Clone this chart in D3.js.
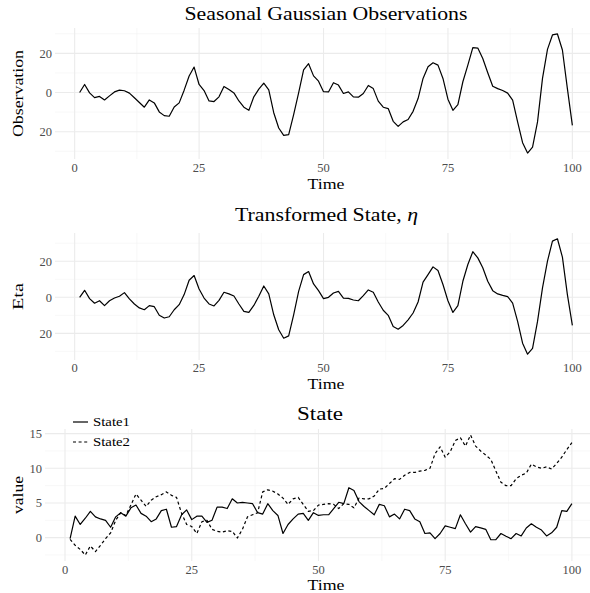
<!DOCTYPE html>
<html><head><meta charset="utf-8">
<script src="https://cdn.jsdelivr.net/npm/d3@7"></script>
<style>
body{margin:0;background:#fff}
svg{display:block}
text{font-family:"Liberation Serif","DejaVu Serif",serif}
</style>
</head><body>
<script>
// ---------- data ----------
const time = d3.range(1, 101);
const observation = [0,4.1,-0.2,-2.6,-2,-3.8,-1.7,0.3,1.2,0.9,-0.3,-2.7,-5.1,-7.5,-3.8,-5.3,-9.9,-11.8,-12.1,-7.4,
 -5.3,1.2,8.4,13,4.1,1,-4.3,-4.6,-2.2,3.1,1.5,-0.2,-4.3,-7.5,-9.1,-2.2,1.7,4.8,1.4,-10.3,
 -18.1,-21.9,-21.5,-11.3,-0.2,11.5,14.7,8.5,5.8,0.4,0.3,5,3.8,-0.5,0.3,-2.2,-2.4,-0.5,3.6,2,
 -4.4,-7.5,-8.2,-14.7,-17.3,-15,-13.8,-9.6,-3.1,7.2,13.2,15.2,14,7.2,-3.4,-9.1,-6.2,5.5,14,22.9,
 22.7,17.4,10.1,3.2,2,1,-0.3,-3.9,-15,-25.6,-30.9,-27.9,-15,7.2,22,29.4,29.9,21.7,2,-16.8];
const eta = [0,3.9,-0.7,-3.3,-1.9,-4.6,-1.9,-0.4,0.6,2.6,-0.9,-3.7,-5.9,-6.9,-4.6,-5.2,-10,-11.5,-10.8,-6.9,
 -4.1,1.5,9.5,12.1,4.6,-0.4,-3.7,-4.8,-1.7,2.8,1.9,0.7,-3.7,-7.8,-8.4,-4.5,0.6,6.3,1.9,-9.7,
 -18,-22.7,-21.4,-9.7,3.3,12.6,14.3,7.4,3.7,-0.7,0,2.4,3.3,-0.4,-0.6,-1.5,-1.9,0.9,4.1,2.8,
 -2.6,-7.2,-10,-16.2,-17.7,-15.6,-12.5,-8.7,-2.6,8.4,12.6,16.9,14.9,7.1,-1.9,-8.4,-4.6,8.9,18.2,25.3,
 21.9,16.4,8.9,3.7,1.9,1.1,0.4,-3.2,-13.4,-25.5,-31.6,-28.3,-13.4,5.2,20.1,31.2,32.5,22.3,1.5,-15.6];
const state1 = [-0.15,3.1,1.9,2.8,3.8,3,2.7,2.5,1.5,3,3.6,3.1,4.3,4.7,3.5,3.1,2.3,2.7,3.9,4.1,
 1.5,1.6,3.3,4,2.6,3.1,3.1,2.2,2.5,4.4,4.4,4.2,5.6,5,5.1,5,4.9,3.6,3.4,4.9,
 3.9,3.2,0.6,1.9,2.7,3.4,3.5,2.5,3.6,3.2,3.3,3.3,4.2,5.1,4.9,7.2,6.8,5.2,4.5,3.9,
 3.3,4.8,4.6,3,3.4,2.7,4.1,3.9,2.7,2.3,0.6,0.7,-0.15,0.6,1.7,1.5,1.3,3.3,2,0.8,
 1.6,1.4,1.2,-0.3,-0.3,0.6,0.2,-0.15,0.6,0.25,1.4,2,1.5,1.1,0.25,0.7,1.5,3.9,3.8,4.9];
const state2 = [-0.25,-1.1,-1.7,-2.5,-1.2,-2,-1.1,-0.15,0.7,2.5,3.6,3.2,4.7,6.3,5.4,4.5,5.4,5.9,6.2,6.6,
 6.1,5.8,3.5,1.9,1.6,0.6,2.3,2.5,1.2,0.9,0.8,1,0.9,-0.05,1.2,3,3.3,3.6,6.6,6.9,
 6.7,6.3,5.7,4.8,5.6,5.8,4.8,3.8,3.9,4.7,4.8,4.9,4.8,4.2,4.9,4.8,4.3,5.7,5.6,5.6,
 6,7,7.1,7.8,8.5,8.4,9,9.4,9.4,9.6,9.7,10,12.1,13.1,11.6,12.4,14,14.4,13.2,14.8,
 13.2,12.5,11.9,11.3,9.6,8,7.5,7.5,8.5,9,9.3,10.6,10.2,10,10.2,9.9,10.7,11.6,12.7,13.7];

const xTicks = [0, 25, 50, 75, 100];
const xTickLabels = ["0", "25", "50", "75", "100"];
const obsTicks = [-20, 0, 20];
const obsTickLabels = ["20", "0", "20"];
const etaTicks = [-20, 0, 20];
const etaTickLabels = ["20", "0", "20"];
const stateTicks = [0, 5, 10, 15];
const stateTickLabels = ["0", "5", "10", "15"];
const panelTitles = ["Seasonal Gaussian Observations", "Transformed State, ", "State"];
const yTitles = ["Observation", "Eta", "value"];
const xTitle = "Time";
const seriesNames = ["State1", "State2"];

// ---------- drawing ----------
const W = 590, H = 593;
const svg = d3.select("body").append("svg").attr("width", W).attr("height", H);

function expanded(vals) {
  const [a, b] = d3.extent(vals);
  const p = (b - a) * 0.05;
  return [a - p, b + p];
}
// stretch text horizontally to the target width, keeping its height
function fit(sel, target) {
  return sel.attr("textLength", target).attr("lengthAdjust", "spacingAndGlyphs");
}

const panels = [
  {series: [observation], ticks: obsTicks, labels: obsTickLabels, left: 55, right: 597, top: 28, bottom: 159,
   titleY: 20, titleX: 326, titleW: 283, xlabY: 172, xTitleY: 189, ytX: 23, ytW: 87, tickX: 52},
  {series: [eta], ticks: etaTicks, labels: etaTickLabels, left: 55, right: 597, top: 233, bottom: 360,
   titleY: 221, titleX: 326.5, titleW: 183, xlabY: 372, xTitleY: 389, ytX: 23, ytW: 27, tickX: 52},
  {series: [state1, state2], ticks: stateTicks, labels: stateTickLabels, left: 45, right: 597, top: 429, bottom: 561,
   titleY: 420, titleX: 320, titleW: 46, xlabY: 574, xTitleY: 590, ytX: 23, ytW: 38, tickX: 42}
];

const dashes = [null, "3,2.6"];

panels.forEach((p, i) => {
  const g = svg.append("g");
  const x = d3.scaleLinear().domain(expanded(time)).range([p.left, p.right]);
  const y = d3.scaleLinear().domain(expanded(p.series.flat())).range([p.bottom, p.top]);

  // minor grid
  const xMinor = xTicks.slice(0, -1).map((d, k) => (d + xTicks[k + 1]) / 2);
  const step = p.ticks[1] - p.ticks[0];
  const yMinor = [p.ticks[0] - step / 2, ...p.ticks.map(d => d + step / 2)]
    .filter(d => d >= y.domain()[0] && d <= y.domain()[1]);
  g.selectAll(".mx").data(xMinor).join("line")
    .attr("x1", d => x(d)).attr("x2", d => x(d)).attr("y1", p.top).attr("y2", p.bottom)
    .attr("stroke", "#f3f3f3").attr("stroke-width", 0.6);
  g.selectAll(".my").data(yMinor).join("line")
    .attr("x1", p.left).attr("x2", p.right).attr("y1", d => y(d)).attr("y2", d => y(d))
    .attr("stroke", "#f3f3f3").attr("stroke-width", 0.6);
  // major grid
  g.selectAll(".Mx").data(xTicks).join("line")
    .attr("x1", d => x(d)).attr("x2", d => x(d)).attr("y1", p.top).attr("y2", p.bottom)
    .attr("stroke", "#ebebeb").attr("stroke-width", 1.1);
  g.selectAll(".My").data(p.ticks).join("line")
    .attr("x1", p.left).attr("x2", p.right).attr("y1", d => y(d)).attr("y2", d => y(d))
    .attr("stroke", "#ebebeb").attr("stroke-width", 1.1);

  // lines
  p.series.forEach((s, k) => {
    const line = d3.line().x((d, j) => x(time[j])).y(d => y(d));
    g.append("path").datum(s).attr("d", line).attr("fill", "none")
      .attr("stroke", "#000").attr("stroke-width", 1.2)
      .attr("stroke-linejoin", "round")
      .attr("stroke-dasharray", dashes[k]);
  });

  // tick labels
  g.selectAll(".xl").data(xTicks).join("text")
    .attr("x", d => x(d)).attr("y", p.xlabY).attr("text-anchor", "middle")
    .attr("font-size", 12.5).attr("fill", "#4d4d4d")
    .text((d, j) => xTickLabels[j]);
  g.selectAll(".yl").data(p.ticks).join("text")
    .attr("x", p.tickX).attr("y", d => y(d)).attr("dy", "0.35em").attr("text-anchor", "end")
    .attr("font-size", 12.5).attr("fill", "#4d4d4d")
    .text((d, j) => p.labels[j]);

  // titles
  const t = g.append("text").attr("x", p.titleX).attr("y", p.titleY).attr("text-anchor", "middle")
    .attr("font-size", 19).attr("fill", "#000").text(panelTitles[i]);
  if (i === 1) t.append("tspan").attr("font-style", "italic").text("η");
  fit(t, p.titleW);
  const xt = g.append("text").attr("x", 326).attr("y", p.xTitleY).attr("text-anchor", "middle")
    .attr("font-size", 15).attr("fill", "#000").text(xTitle);
  fit(xt, 37);
  const yt = g.append("text").attr("transform", `translate(${p.ytX},${(p.top + p.bottom) / 2}) rotate(-90)`)
    .attr("text-anchor", "middle").attr("font-size", 15).attr("fill", "#000").text(yTitles[i]);
  fit(yt, p.ytW);

  // legend
  if (i === 2) {
    const lg = svg.append("g");
    seriesNames.forEach((n, k) => {
      const yy = 422 + k * 20;
      lg.append("line").attr("x1", 73).attr("x2", 88).attr("y1", yy).attr("y2", yy)
        .attr("stroke", "#000").attr("stroke-width", 1.2).attr("stroke-dasharray", dashes[k]);
      const lt = lg.append("text").attr("x", 93).attr("y", yy).attr("dy", "0.35em")
        .attr("font-size", 12.5).attr("fill", "#000").text(n);
      fit(lt, 37);
    });
  }
});
</script>
</body></html>
